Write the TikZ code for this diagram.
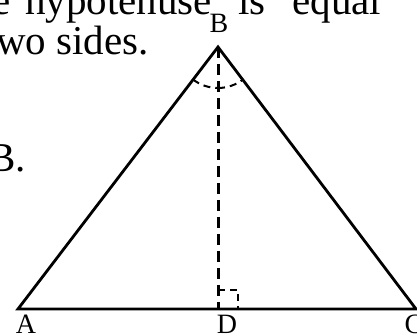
\documentclass[tikz,border=0pt]{standalone}
\usepackage{fontspec}
\setmainfont{Liberation Serif}
\usetikzlibrary{calc}
\begin{document}
\begin{tikzpicture}[x=1pt,y=1pt,
  side/.style={line width=2.8pt,line join=miter},
  alt/.style={line width=3pt,dash pattern=on 11pt off 6pt},
  anglemark/.style={line width=2pt,dash pattern=on 7pt off 5pt},
  bigtext/.style={inner sep=0pt,anchor=base west,font=\fontsize{41}{48}\selectfont},
  vlabel/.style={inner sep=0pt,font=\fontsize{28}{32}\selectfont}]
\useasboundingbox (0,0) rectangle (417,336);
% vertices (y up, origin bottom-left)
\coordinate (A) at (18,27);
\coordinate (B) at (218,289);
\coordinate (C) at (416,27);
\coordinate (D) at (218,27);
% paragraph text
\node[bigtext] (l1) at (-8,321) {e\hspace{15pt}hypotenuse\hspace{26pt}is\hspace{27pt}equal};
\node[bigtext] (l2) at (-4,281) {wo sides.};
\node[bigtext] (l3) at (-12,164) {B.};
% triangle
\draw[side] (A) -- (B) -- (C) -- cycle;
\draw[alt] (B) -- (D);
% right angle mark
\draw[anglemark] ($(D)+(0,19)$) -- ++(20,0) -- ++(0,-19);
% angle arcs at B
\draw[anglemark] ([shift={(232.6:41)}]B) arc[start angle=232.6,end angle=270,radius=41];
\draw[anglemark] ([shift={(270:41)}]B) arc[start angle=270,end angle=307.1,radius=41];
% labels
\node[vlabel,anchor=base] (lB) at (219,303) {B};
\node[vlabel,anchor=base] (lA) at (26,2) {A};
\node[vlabel,anchor=base] (lD) at (227,2) {D};
\node[vlabel,anchor=base] (lC) at (414,2) {C};
\end{tikzpicture}
\end{document}
